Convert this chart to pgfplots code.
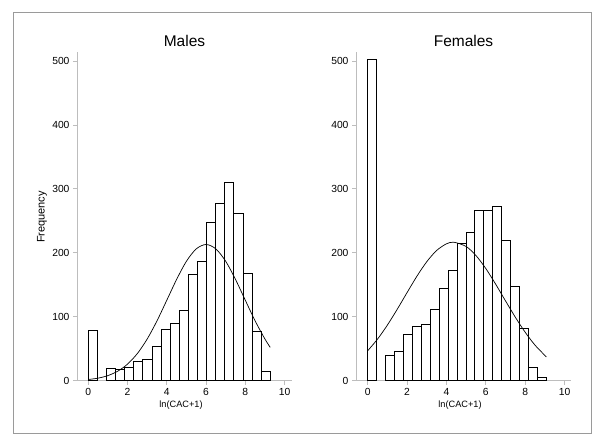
\documentclass[border=0pt]{standalone}
\usepackage{pgfplots}
\pgfplotsset{compat=1.18}
\usepackage{fontspec}
\setmainfont{Liberation Sans}
\definecolor{axgray}{HTML}{BDBDBD}
\definecolor{framegray}{HTML}{9A9A9A}
\pgfplotsset{
  hist/.style={
    scale only axis, anchor=south west,
    width=215pt, height=328.7pt,
    ymin=0, ymax=514,
    axis lines=left, axis line style={-, draw=axgray, line width=1pt},
    tick style={draw=axgray, line width=0.8pt},
    tick align=outside, major tick length=4pt,
    xtick={0,2,4,6,8,10}, ytick={0,100,200,300,400,500},
    ticklabel style={font=\fontsize{10.3}{12}\selectfont, text=black},
    /pgf/number format/assume math mode=true,
    every axis title/.style={font=\fontsize{15.5}{18}\selectfont, at={(rel axis cs:0.5,1)}, anchor=base, yshift=5.5pt},
    clip=false,
  },
  barsty/.style={ybar interval, fill=white, draw=black, line width=0.8pt},
  curvesty/.style={smooth, black, line width=0.7pt, mark=none},
}
\begin{document}
\begin{tikzpicture}
\useasboundingbox (0pt,0pt) rectangle (600pt,437pt);
\draw[framegray, line width=1pt] (13.3pt,3.7pt) rectangle (591.7pt,424.7pt);

% Males
\begin{axis}[hist, at={(77pt,56.3pt)}, xmin=-0.577, xmax=10.38, title={Males}]
\addplot[barsty] coordinates {(0,79) (0.4635,79)};
\addplot[barsty] coordinates {
(0.927,19) (1.3905,18) (1.854,21) (2.3175,30) (2.781,33) (3.2445,54)
(3.708,80) (4.1715,90) (4.635,110) (5.0985,166) (5.562,187) (6.0255,247)
(6.489,277) (6.9525,310) (7.416,262) (7.8795,168) (8.343,77) (8.8065,15)
(9.27,15)};
\addplot[curvesty] coordinates {
(0,1.9) (0.5,4.0) (1,8.0) (1.5,14.9) (2,26.0) (2.5,42.5) (3,65.2) (3.5,93.6)
(4,125.9) (4.5,158.4) (5,186.8) (5.5,206.1) (6,213) (6.5,206.1) (7,186.8)
(7.5,158.4) (8,125.9) (8.5,93.6) (9,65.2) (9.27,52.2)};
\end{axis}

% Females
\begin{axis}[hist, at={(356pt,56.3pt)}, xmin=-0.59, xmax=10.33, title={Females}]
\addplot[barsty] coordinates {(0,503) (0.454,503)};
\addplot[barsty] coordinates {
(0.908,39) (1.362,46) (1.816,72) (2.27,85) (2.724,88) (3.178,112)
(3.632,145) (4.086,172) (4.54,214) (4.994,232) (5.448,267) (5.902,267)
(6.356,273) (6.81,219) (7.264,148) (7.718,82) (8.172,21) (8.626,5)
(9.08,5)};
\addplot[curvesty] coordinates {
(0,46.7) (0.5,64.9) (1,86.8) (1.5,111.5) (2,137.6) (2.5,163.2) (3,185.9)
(3.5,203.5) (4,214.0) (4.38,216.5) (5,209.9) (5.5,195.8) (6,175.5)
(6.5,151.1) (7,125.0) (7.5,99.4) (8,75.9) (8.5,55.7) (9.08,37.2)};
\end{axis}

\node[rotate=90, font=\fontsize{11}{13}\selectfont] at (42pt,220pt) {Frequency};
\node[font=\fontsize{9.2}{11}\selectfont] at (181pt,32pt) {ln(CAC+1)};
\node[font=\fontsize{9.2}{11}\selectfont] at (460pt,32pt) {ln(CAC+1)};
\end{tikzpicture}
\end{document}
